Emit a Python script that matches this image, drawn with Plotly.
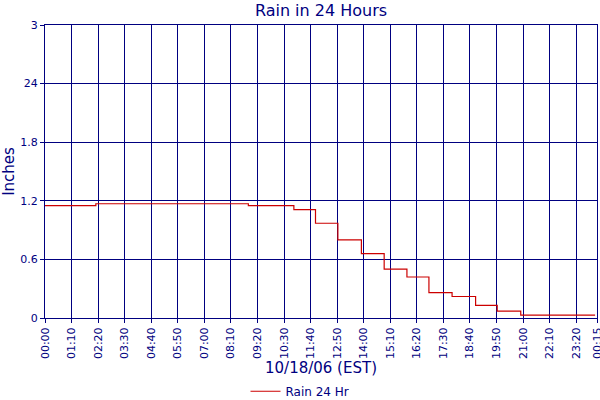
import plotly.graph_objects as go

# rain totals (inches) - step changes, 10/18/06
step_times = ["2006-10-18 00:00", "2006-10-18 02:14", "2006-10-18 08:56",
              "2006-10-18 10:56", "2006-10-18 11:53", "2006-10-18 12:52",
              "2006-10-18 13:54", "2006-10-18 14:54", "2006-10-18 15:54",
              "2006-10-18 16:52", "2006-10-18 17:53", "2006-10-18 18:55",
              "2006-10-18 19:52", "2006-10-18 20:54", "2006-10-19 00:10"]
rain_24hr = [1.15, 1.17, 1.15, 1.11, 0.97, 0.80, 0.66, 0.50, 0.42,
             0.26, 0.22, 0.13, 0.07, 0.03, 0.03]

x_tick_vals = ["2006-10-18 00:00", "2006-10-18 01:10", "2006-10-18 02:20",
               "2006-10-18 03:30", "2006-10-18 04:40", "2006-10-18 05:50",
               "2006-10-18 07:00", "2006-10-18 08:10", "2006-10-18 09:20",
               "2006-10-18 10:30", "2006-10-18 11:40", "2006-10-18 12:50",
               "2006-10-18 14:00", "2006-10-18 15:10", "2006-10-18 16:20",
               "2006-10-18 17:30", "2006-10-18 18:40", "2006-10-18 19:50",
               "2006-10-18 21:00", "2006-10-18 22:10", "2006-10-18 23:20",
               "2006-10-19 00:15"]
x_tick_text = [t[-5:] for t in x_tick_vals]

y_tick_vals = [0, 0.6, 1.2, 1.8, 2.4, 3]
y_tick_text = ["0", "0.6", "1.2", "1.8", "24", "3"]

navy = "#000080"
font = "DejaVu Sans"

fig = go.Figure()
fig.add_trace(go.Scatter(x=step_times, y=rain_24hr, mode="lines",
                         line=dict(color="#cc0000", width=1.2, shape="hv"),
                         name="Rain 24 Hr"))

fig.update_layout(
    width=600, height=400,
    margin=dict(l=45, r=3, t=25, b=82, autoexpand=False),
    paper_bgcolor="white", plot_bgcolor="white",
    font=dict(family=font, color=navy, size=11),
    title=dict(text="Rain in 24 Hours", x=0.535, xanchor="center",
               y=0.975, yanchor="middle",
               font=dict(size=16, color=navy)),
    showlegend=True,
    legend=dict(orientation="h", x=0.5, xanchor="center", xref="container",
                y=-0.25, yanchor="middle", font=dict(size=12, color=navy),
                itemwidth=30),
)

fig.update_xaxes(
    range=["2006-10-18 00:00", "2006-10-19 00:15"],
    tickmode="array", tickvals=x_tick_vals, ticktext=x_tick_text,
    tickangle=-90, tickfont=dict(size=11, color=navy),
    ticklabeloverflow="allow",
    showgrid=True, gridcolor=navy, gridwidth=1,
    showline=True, linecolor=navy, linewidth=1, mirror=True,
    ticks="outside", ticklen=4, tickcolor=navy,
    title=dict(text="10/18/06 (EST)", font=dict(size=15, color=navy), standoff=3),
    zeroline=False, automargin=False,
)
fig.update_yaxes(
    range=[0, 3],
    tickmode="array", tickvals=y_tick_vals, ticktext=y_tick_text,
    tickfont=dict(size=11, color=navy),
    showgrid=True, gridcolor=navy, gridwidth=1,
    showline=True, linecolor=navy, linewidth=1, mirror=True,
    ticks="outside", ticklen=4, tickcolor=navy,
    title=dict(text="Inches", font=dict(size=15, color=navy), standoff=4),
    zeroline=False, automargin=False,
)

# page has a default 8px body margin; drop it so the figure sits at 0,0
fig.write_html("out.html", config={"displayModeBar": False},
               post_script="document.body.style.margin='0';")
